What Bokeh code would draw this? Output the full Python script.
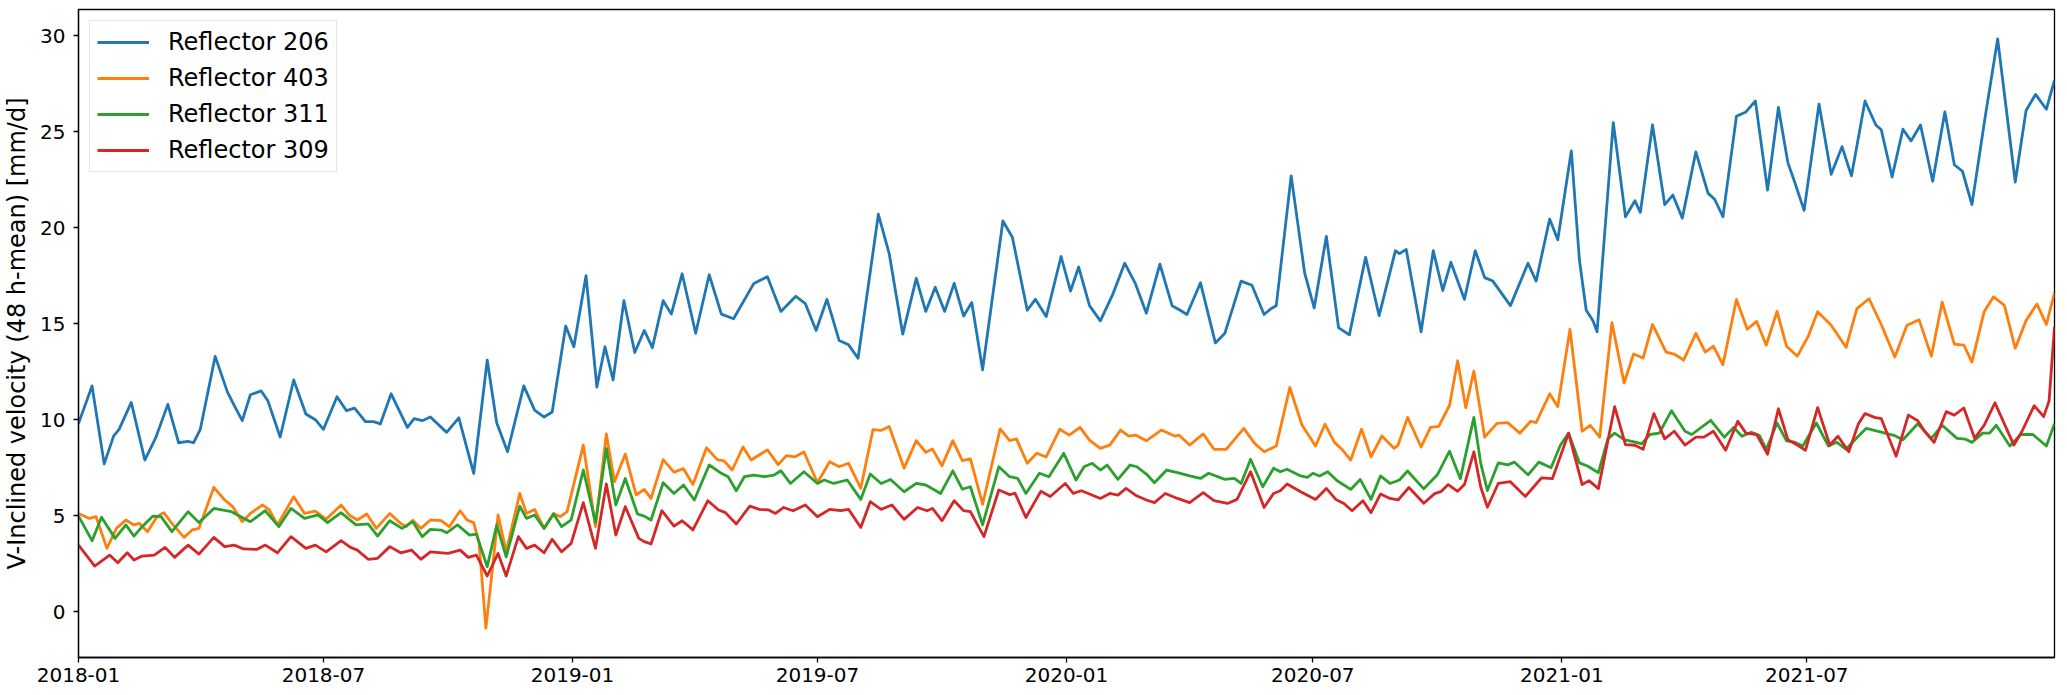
import pandas as pd
from bokeh.plotting import figure
from bokeh.models import Range1d, FixedTicker, DatetimeTickFormatter, Legend, LegendItem
from bokeh.embed import file_html
from bokeh.resources import INLINE

# ---------------- data (days since 2018-01-01, velocity mm/d) ----------------
start_date = "2018-01-01"

r206_days = [0, 10, 19, 26, 30, 39, 49, 57, 66, 74, 81, 85, 90, 101, 110, 115, 121, 127, 135, 140,
             149, 159, 168, 175, 181, 191, 198, 204, 212, 218, 223, 231, 243, 248, 254, 260, 272, 281, 292, 302,
             309, 317, 329, 337, 344, 350, 360, 366, 375, 383, 389, 395, 403, 411, 418, 424, 432, 438, 446, 456,
             466, 475, 484, 499, 509, 519, 530, 537, 545, 553, 562, 569, 576, 591, 599, 609, 619, 626, 633, 640,
             647, 654, 660, 668, 683, 690, 701, 707, 715, 726, 733, 739, 747, 755, 764, 773, 781, 789, 799, 808,
             814, 819, 829, 840, 847, 859, 867, 876, 881, 885, 896, 906, 913, 922, 931, 939, 951, 961, 973, 976,
             981, 992, 1001, 1008, 1014, 1024, 1032, 1039, 1045, 1058, 1071, 1077, 1087, 1093, 1103, 1109, 1114, 1119, 1122, 1134,
             1143, 1150, 1154, 1163, 1172, 1178, 1185, 1195, 1204, 1209, 1215, 1225, 1232, 1239, 1248, 1256, 1263, 1268, 1275, 1286,
             1295, 1303, 1310, 1320, 1328, 1332, 1340, 1348, 1354, 1361, 1370, 1379, 1386, 1392, 1399, 1409, 1418, 1431, 1439, 1446,
             1454, 1460]
r206_vals = [9.8, 11.76, 7.7, 9.16, 9.5, 10.9, 7.9, 9.05, 10.8, 8.8, 8.87, 8.8, 9.5, 13.3, 11.45, 10.75, 9.95, 11.3, 11.5, 10.97,
             9.1, 12.07, 10.3, 10.0, 9.5, 11.2, 10.47, 10.6, 9.9, 9.9, 9.78, 11.35, 9.6, 10.06, 9.95, 10.14, 9.34, 10.1, 7.2, 13.1,
             9.84, 8.33, 11.76, 10.5, 10.14, 10.4, 14.88, 13.8, 17.5, 11.7, 13.8, 12.07, 16.2, 13.5, 14.65, 13.75, 16.2, 15.5, 17.6, 14.5,
             17.55, 15.5, 15.26, 17.1, 17.45, 15.64, 16.43, 16.05, 14.65, 16.27, 14.13, 13.9, 13.2, 20.7, 18.65, 14.46, 17.36, 15.64, 16.9, 15.64,
             17.1, 15.4, 16.1, 12.6, 20.35, 19.5, 15.7, 16.27, 15.37, 18.5, 16.7, 17.95, 15.94, 15.15, 16.5, 18.15, 17.07, 15.55, 18.1, 15.94,
             15.7, 15.48, 17.13, 14.0, 14.5, 17.22, 17.0, 15.48, 15.78, 15.94, 22.7, 17.63, 15.82, 19.55, 14.8, 14.42, 18.46, 15.42, 18.8, 18.65,
             18.87, 14.58, 18.8, 16.73, 18.2, 16.27, 18.8, 17.4, 17.22, 15.94, 18.15, 17.22, 20.45, 19.37, 24.0, 18.3, 15.7, 15.15, 14.58, 25.47,
             20.57, 21.4, 20.8, 25.35, 21.2, 21.7, 20.5, 23.95, 21.8, 21.47, 20.57, 25.8, 26.03, 26.6, 21.96, 26.26, 23.39, 22.38, 20.9, 26.44,
             22.78, 24.22, 22.7, 26.6, 25.35, 25.1, 22.64, 25.13, 24.52, 25.35, 22.42, 26.03, 23.28, 22.94, 21.2, 25.87, 29.83, 22.38, 26.1, 26.94,
             26.17, 27.68]

r403_days = [0, 8, 13, 21, 28, 35, 41, 45, 51, 58, 63, 69, 78, 84, 89, 100, 108, 114, 121, 127,
             136, 141, 147, 159, 167, 175, 183, 194, 200, 206, 213, 220, 230, 238, 242, 247, 253, 260, 268, 274,
             282, 287, 292, 296, 301, 306, 310, 316, 326, 331, 337, 344, 351, 356, 361, 373, 382, 390, 396, 404,
             412, 418, 423, 432, 440, 447, 454, 464, 472, 477, 483, 491, 497, 509, 517, 523, 529, 536, 546, 555,
             562, 569, 578, 587, 593, 599, 610, 619, 626, 631, 638, 646, 653, 659, 668, 681, 688, 693, 701, 708,
             715, 725, 732, 740, 747, 755, 762, 770, 776, 781, 789, 800, 810, 813, 821, 831, 839, 848, 861, 869,
             876, 885, 895, 904, 914, 921, 928, 934, 940, 948, 955, 963, 972, 975, 982, 992, 999, 1005, 1013, 1019,
             1025, 1031, 1039, 1048, 1056, 1065, 1073, 1077, 1087, 1093, 1102, 1111, 1117, 1124, 1133, 1142, 1149, 1156, 1163, 1173,
             1179, 1186, 1195, 1202, 1208, 1215, 1225, 1233, 1240, 1247, 1255, 1262, 1270, 1278, 1285, 1295, 1306, 1314, 1323, 1332,
             1342, 1351, 1360, 1369, 1377, 1386, 1393, 1399, 1408, 1415, 1423, 1431, 1439, 1447, 1454, 1460]
r403_vals = [5.12, 4.86, 4.95, 3.3, 4.34, 4.78, 4.52, 4.6, 4.17, 4.95, 5.16, 4.6, 3.87, 4.26, 4.34, 6.48, 5.82, 5.47, 4.69, 5.12,
             5.56, 5.3, 4.52, 5.99, 5.12, 5.24, 4.81, 5.56, 5.04, 4.78, 5.09, 4.34, 5.12, 4.6, 4.43, 4.77, 4.34, 4.78, 4.74, 4.43,
             5.26, 4.78, 4.64, 3.56, -0.85, 2.34, 5.04, 3.13, 6.16, 5.12, 5.33, 4.34, 5.12, 4.95, 5.21, 8.68, 4.43, 9.26, 6.77, 8.21,
             6.08, 6.37, 5.9, 7.92, 7.27, 7.45, 6.63, 8.54, 7.92, 7.86, 7.38, 8.58, 7.9, 8.43, 7.66, 8.13, 8.06, 8.32, 6.72, 7.81,
             7.55, 7.73, 6.43, 9.48, 9.44, 9.65, 7.48, 8.91, 8.3, 8.47, 7.6, 8.91, 7.87, 7.96, 5.6, 9.52, 8.91, 9.0, 7.73, 8.25,
             8.06, 9.5, 9.2, 9.6, 8.94, 8.51, 8.68, 9.46, 9.15, 9.2, 8.9, 9.46, 9.15, 9.2, 8.68, 9.26, 8.46, 8.46, 9.55, 8.77,
             8.33, 8.63, 11.68, 9.72, 8.63, 9.76, 8.82, 8.42, 7.9, 9.5, 8.07, 9.15, 8.51, 8.68, 10.12, 8.58, 9.6, 9.65, 10.74, 13.07,
             10.63, 12.53, 9.09, 9.81, 9.85, 9.3, 9.92, 9.85, 11.35, 10.68, 14.71, 9.4, 9.71, 9.09, 15.06, 11.91, 13.42, 13.21, 14.96, 13.52,
             13.42, 13.1, 14.5, 13.52, 13.83, 12.86, 16.26, 14.71, 15.12, 13.88, 15.64, 13.83, 13.31, 14.34, 15.62, 14.92, 13.77, 15.79, 16.3, 14.96,
             13.27, 14.92, 15.2, 13.31, 16.12, 13.94, 13.89, 13.0, 15.62, 16.4, 15.95, 13.72, 15.16, 16.03, 14.96, 16.61]

r311_days = [0, 10, 17, 27, 35, 41, 47, 55, 61, 69, 81, 89, 100, 113, 127, 138, 148, 157, 167, 177,
             184, 194, 205, 214, 221, 230, 239, 247, 254, 260, 268, 272, 280, 289, 294, 302, 309, 316, 326, 331,
             337, 344, 351, 357, 364, 373, 382, 390, 397, 404, 413, 418, 423, 432, 440, 447, 455, 466, 475, 480,
             486, 492, 499, 507, 514, 519, 526, 536, 546, 551, 558, 568, 578, 585, 593, 600, 610, 619, 626, 637,
             646, 653, 659, 668, 680, 688, 694, 700, 710, 717, 728, 737, 743, 749, 755, 760, 768, 777, 782, 789,
             795, 804, 812, 821, 829, 835, 847, 854, 859, 866, 875, 883, 888, 893, 903, 908, 912, 917, 923, 930,
             940, 947, 955, 962, 969, 976, 982, 994, 1004, 1013, 1021, 1031, 1036, 1041, 1049, 1056, 1061, 1071, 1079, 1088,
             1095, 1101, 1109, 1115, 1123, 1130, 1135, 1142, 1151, 1155, 1161, 1168, 1177, 1187, 1192, 1206, 1216, 1223, 1229, 1236,
             1242, 1247, 1255, 1262, 1268, 1274, 1284, 1293, 1299, 1306, 1315, 1321, 1332, 1342, 1348, 1359, 1369, 1377, 1388, 1394,
             1399, 1407, 1412, 1417, 1427, 1435, 1444, 1454, 1460]
r311_vals = [4.98, 3.7, 4.92, 3.82, 4.52, 3.94, 4.43, 4.98, 4.95, 4.17, 5.21, 4.64, 5.38, 5.21, 4.69, 5.26, 4.43, 5.38, 4.86, 5.04,
             4.64, 5.16, 4.52, 4.57, 3.94, 4.74, 4.34, 4.69, 3.91, 4.29, 4.25, 4.11, 4.52, 3.99, 4.04, 2.34, 4.52, 2.86, 5.5, 4.86,
             5.04, 4.34, 5.09, 4.43, 4.78, 7.38, 4.64, 8.5, 5.56, 6.94, 5.09, 4.98, 4.78, 6.72, 6.16, 6.6, 5.82, 7.64, 7.21, 7.03,
             6.3, 7.03, 7.12, 7.03, 7.12, 7.34, 6.68, 7.29, 6.68, 6.86, 6.68, 6.86, 5.85, 7.17, 6.68, 6.89, 6.25, 6.68, 6.6, 6.16,
             7.34, 6.38, 6.51, 4.52, 7.55, 7.03, 6.94, 6.16, 7.21, 7.03, 8.25, 6.86, 7.55, 7.73, 7.38, 7.64, 6.89, 7.64, 7.55, 7.17,
             6.72, 7.38, 7.24, 7.07, 6.94, 7.21, 6.89, 6.94, 6.68, 7.94, 6.51, 7.47, 7.29, 7.42, 7.07, 7.0, 7.21, 7.07, 7.29, 6.82,
             6.37, 6.89, 5.85, 7.07, 6.68, 6.86, 7.33, 6.4, 7.13, 8.36, 6.93, 10.12, 7.75, 6.31, 7.75, 7.65, 7.79, 7.13, 7.79, 7.5,
             8.68, 9.3, 7.75, 7.59, 7.24, 9.0, 9.3, 8.96, 8.82, 8.74, 9.23, 9.3, 10.47, 9.4, 9.23, 9.97, 9.09, 9.6, 9.14, 9.35,
             9.17, 8.45, 9.83, 8.9, 8.83, 8.63, 9.83, 8.63, 8.83, 8.46, 9.14, 9.55, 9.35, 9.17, 8.96, 9.79, 9.03, 9.71, 9.03, 8.99,
             8.82, 9.3, 9.3, 9.71, 8.63, 9.23, 9.23, 8.63, 9.79]

r309_days = [0, 12, 23, 29, 36, 41, 47, 56, 64, 71, 81, 89, 100, 108, 115, 122, 132, 138, 147, 157,
             168, 175, 183, 194, 201, 206, 214, 221, 230, 238, 246, 253, 260, 273, 282, 288, 294, 302, 310, 316,
             325, 331, 337, 344, 350, 357, 364, 373, 382, 390, 397, 404, 414, 418, 423, 431, 440, 446, 454, 465,
             473, 478, 486, 496, 503, 510, 515, 521, 528, 537, 546, 555, 563, 569, 578, 585, 593, 601, 610, 620,
             627, 631, 638, 647, 654, 659, 669, 680, 688, 692, 700, 711, 718, 729, 735, 741, 747, 755, 762, 768,
             774, 781, 789, 795, 803, 812, 821, 831, 839, 849, 856, 866, 876, 883, 888, 893, 903, 914, 922, 929,
             935, 941, 949, 955, 962, 969, 975, 983, 994, 1002, 1007, 1012, 1019, 1024, 1031, 1036, 1041, 1049, 1058, 1069,
             1081, 1089, 1101, 1111, 1116, 1123, 1135, 1143, 1150, 1156, 1164, 1172, 1179, 1187, 1195, 1201, 1208, 1217, 1226, 1232,
             1240, 1248, 1256, 1263, 1270, 1276, 1285, 1294, 1300, 1308, 1315, 1320, 1327, 1332, 1343, 1352, 1359, 1364, 1371, 1380,
             1386, 1393, 1401, 1408, 1416, 1430, 1436, 1445, 1452, 1456, 1460]
r309_vals = [3.47, 2.38, 2.95, 2.55, 3.07, 2.69, 2.9, 2.95, 3.35, 2.83, 3.47, 3.0, 3.87, 3.39, 3.47, 3.27, 3.25, 3.47, 3.07, 3.91,
             3.3, 3.47, 3.12, 3.7, 3.35, 3.21, 2.73, 2.78, 3.39, 3.07, 3.21, 2.73, 3.12, 3.04, 3.21, 2.83, 2.95, 1.86, 3.04, 1.86,
             3.91, 3.3, 3.47, 3.07, 3.77, 3.12, 3.56, 5.68, 3.3, 6.65, 3.99, 5.47, 3.82, 3.65, 3.53, 5.26, 4.46, 4.74, 4.26, 5.78,
             5.3, 5.16, 4.57, 5.5, 5.33, 5.3, 5.12, 5.43, 5.26, 5.56, 4.95, 5.33, 5.26, 5.33, 4.39, 5.73, 5.33, 5.56, 4.81, 5.43,
             5.26, 5.38, 4.74, 5.78, 5.26, 5.21, 3.91, 6.34, 6.1, 6.17, 4.91, 6.27, 6.0, 6.68, 6.16, 6.3, 6.13, 5.9, 6.16, 6.07,
             6.42, 6.07, 5.82, 5.68, 6.16, 5.9, 5.68, 6.2, 5.78, 5.64, 5.85, 7.29, 5.43, 6.16, 6.3, 6.65, 6.25, 5.85, 6.42, 5.85,
             5.64, 5.26, 5.78, 5.16, 6.13, 5.9, 5.82, 6.47, 5.65, 6.15, 6.27, 6.62, 6.27, 6.62, 8.33, 6.51, 5.44, 6.68, 6.77, 6.0,
             6.97, 6.93, 9.3, 6.62, 6.83, 6.41, 10.68, 8.7, 8.67, 8.46, 10.32, 9.0, 9.4, 8.68, 9.09, 9.09, 9.4, 8.41, 9.92, 9.3,
             9.23, 8.2, 10.57, 8.96, 8.68, 8.41, 10.63, 8.68, 9.14, 8.33, 9.77, 10.32, 10.12, 10.06, 8.1, 10.24, 9.95, 9.4, 8.82, 10.42,
             10.24, 10.61, 9.03, 9.71, 10.88, 8.68, 9.4, 10.73, 10.16, 10.98, 14.84]

series_names = ["Reflector 206", "Reflector 403", "Reflector 311", "Reflector 309"]
series_days = [r206_days, r403_days, r311_days, r309_days]
series_vals = [r206_vals, r403_vals, r311_vals, r309_vals]
series_colors = ["#1f77b4", "#ff7f0e", "#2ca02c", "#d62728"]

x_tick_labels = ["2018-01", "2018-07", "2019-01", "2019-07", "2020-01", "2020-07", "2021-01", "2021-07"]
y_ticks = [0, 5, 10, 15, 20, 25, 30]
y_label = "V-Inclined velocity (48 h-mean) [mm/d]"

# ---------------- figure ----------------
t0 = pd.Timestamp(start_date)
FONT = "DejaVu Sans"

p = figure(frame_width=1976, frame_height=648, x_axis_type="datetime",
           output_backend="svg", toolbar_location=None,
           min_border_left=73, min_border_right=2, min_border_top=9, min_border_bottom=32)

x_start = t0 + pd.Timedelta(days=min(r206_days))
x_end = t0 + pd.Timedelta(days=max(r206_days))
all_vals = [v for s in series_vals for v in s]
vmin, vmax = min(all_vals), max(all_vals)
pad = 0.05 * (vmax - vmin)
p.x_range = Range1d(x_start, x_end)
p.y_range = Range1d(vmin - pad, vmax + pad)

items = []
for name, days, vals, col in zip(series_names, series_days, series_vals, series_colors):
    xs = t0 + pd.to_timedelta(days, unit="D")
    r = p.line(xs, vals, line_color=col, line_width=2.8, line_join="round")
    items.append(LegendItem(label=name, renderers=[r]))

p.grid.visible = False
p.background_fill_color = "white"
p.border_fill_color = "white"
p.outline_line_color = "black"
p.outline_line_width = 1.3
p.outline_line_alpha = 1.0

tick_ms = [pd.Timestamp(t + "-01").value // 10**6 for t in x_tick_labels]
p.xaxis.ticker = FixedTicker(ticks=tick_ms)
fmt = "%Y-%m"
p.xaxis.formatter = DatetimeTickFormatter(milliseconds=fmt, seconds=fmt, minsec=fmt, minutes=fmt,
                                          hourmin=fmt, hours=fmt, days=fmt, months=fmt, years=fmt)
p.yaxis.ticker = FixedTicker(ticks=y_ticks)

for ax in [p.xaxis[0], p.yaxis[0]]:
    ax.axis_line_color = "black"
    ax.axis_line_width = 1.3
    ax.major_tick_line_color = "black"
    ax.major_tick_line_width = 1.3
    ax.major_tick_in = 0
    ax.major_tick_out = 5
    ax.minor_tick_line_color = None
    ax.major_label_text_font = FONT
    ax.major_label_text_font_size = "20px"
    ax.major_label_text_color = "black"

p.xaxis.major_label_standoff = 5
p.yaxis.major_label_standoff = 8
p.yaxis.axis_label = y_label
p.yaxis.axis_label_text_font = FONT
p.yaxis.axis_label_text_font_size = "24px"
p.yaxis.axis_label_text_font_style = "normal"
p.yaxis.axis_label_text_color = "black"
p.yaxis.axis_label_standoff = 6

legend = Legend(items=items, location="top_left")
legend.margin = 11
legend.padding = 7
legend.spacing = 8
legend.glyph_width = 52
legend.glyph_height = 22
legend.label_height = 22
legend.label_standoff = 19
legend.label_text_font = FONT
legend.label_text_font_size = "24px"
legend.label_text_color = "black"
legend.label_text_baseline = "middle"
legend.border_line_color = "#cccccc"
legend.border_line_width = 1.3
legend.background_fill_color = "white"
legend.background_fill_alpha = 0.8
p.add_layout(legend)

open("out.html", "w").write(file_html(p, INLINE))
